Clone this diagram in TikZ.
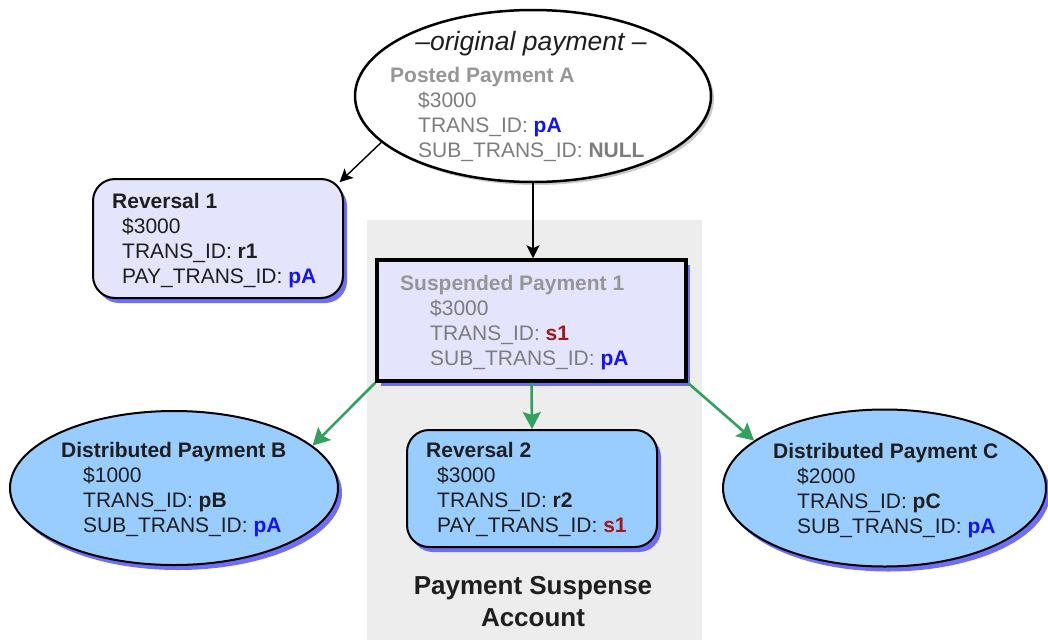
\documentclass[tikz,border=0pt]{standalone}
\usepackage{fontspec}
\setmainfont{Liberation Sans}
\usetikzlibrary{shapes.geometric,shadows,arrows.meta}

\definecolor{lavender}{RGB}{228,228,252}
\definecolor{skyfill}{RGB}{153,204,255}
\definecolor{shadowblue}{RGB}{95,95,245}
\definecolor{areagrey}{RGB}{237,237,237}
\definecolor{idblue}{RGB}{20,20,235}
\definecolor{idred}{RGB}{160,25,25}
\definecolor{titlegrey}{RGB}{150,150,150}
\definecolor{bodygrey}{RGB}{125,125,125}
\definecolor{darktext}{RGB}{30,30,30}
\definecolor{flowgreen}{RGB}{50,160,95}

\newcommand{\ind}[1]{\hspace*{#1pt}}
\newcommand{\idb}[1]{\textbf{\textcolor{idblue}{#1}}}
\newcommand{\idr}[1]{\textbf{\textcolor{idred}{#1}}}

\tikzset{
  blueshadow/.style={drop shadow={shadow xshift=4pt,shadow yshift=-5pt,fill=shadowblue,opacity=0.9}},
  greyshadow/.style={drop shadow={shadow xshift=3pt,shadow yshift=-3pt,fill=black!35,opacity=0.6}},
  recbox/.style={rectangle,draw,line width=2pt,fill=lavender,blueshadow,inner sep=0pt},
  recoval/.style={ellipse,draw,line width=2pt,fill=skyfill,blueshadow,inner sep=0pt},
  % base of a multi-line node is its last line
  txt/.style={anchor=base west,align=left,inner sep=0pt,text=darktext,font=\fontsize{21}{25}\selectfont}
}

\begin{document}
\begin{tikzpicture}[x=1pt,y=-1pt,
    link/.style={-{Stealth[length=13pt,width=13pt,inset=3pt]},line width=1.4pt,black},
    flow/.style={-{Stealth[length=17pt,width=18pt,inset=3pt]},line width=2.6pt,flowgreen}]
\useasboundingbox (0,0) rectangle (1048,640);

% suspense account area
\fill[areagrey] (367,220) rectangle (702,640);
\node (acct) [anchor=base,align=center,inner sep=0pt,text=darktext,
  font=\fontsize{26}{32}\selectfont\bfseries] at (533,626) {Payment Suspense\\Account};

% records
\node (orig) [ellipse,draw,line width=2.5pt,fill=white,greyshadow,inner sep=0pt,
  minimum width=356,minimum height=172] at (533,96) {};
\node (rev1) [recbox,rounded corners=22pt,minimum width=250,minimum height=119] at (218,238.5) {};
\node (susp) [recbox,line width=3.5pt,minimum width=309,minimum height=121] at (531.5,320.5) {};
\node (distB) [recoval,minimum width=328,minimum height=154] at (174,488) {};
\node (rev2) [recbox,fill=skyfill,rounded corners=22pt,minimum width=250,minimum height=117] at (532,488.5) {};
\node (distC) [recoval,minimum width=323,minimum height=157] at (884.5,488) {};

% texts
\node (orig-head) [anchor=base,inner sep=0pt,text=darktext,
  font=\fontsize{26.5}{30}\selectfont\itshape] at (531,50) {–original payment –};
\node (orig-t) [txt,text=bodygrey] at (390,157)
  {\textcolor{titlegrey}{\textbf{Posted Payment A}}\\ \ind{28}\$3000\\
   \ind{28}TRANS\_ID: \idb{pA}\\ \ind{28}SUB\_TRANS\_ID: \textbf{NULL}};
\node (rev1-t) [txt] at (112,283)
  {\textbf{Reversal 1}\\ \ind{10}\$3000\\ \ind{10}TRANS\_ID: \textbf{r1}\\
   \ind{10}PAY\_TRANS\_ID: \idb{pA}};
\node (susp-t) [txt,text=bodygrey] at (400,365)
  {\textcolor{titlegrey}{\textbf{Suspended Payment 1}}\\ \ind{30}\$3000\\
   \ind{30}TRANS\_ID: \idr{s1}\\ \ind{30}SUB\_TRANS\_ID: \idb{pA}};
\node (distB-t) [txt] at (61,532)
  {\textbf{Distributed Payment B}\\ \ind{22}\$1000\\ \ind{22}TRANS\_ID: \textbf{pB}\\
   \ind{22}SUB\_TRANS\_ID: \idb{pA}};
\node (rev2-t) [txt] at (426,532)
  {\textbf{Reversal 2}\\ \ind{11}\$3000\\ \ind{11}TRANS\_ID: \textbf{r2}\\
   \ind{11}PAY\_TRANS\_ID: \idr{s1}};
\node (distC-t) [txt] at (773,533)
  {\textbf{Distributed Payment C}\\ \ind{24}\$2000\\ \ind{24}TRANS\_ID: \textbf{pC}\\
   \ind{24}SUB\_TRANS\_ID: \idb{pA}};

% connectors
\draw[link,shorten >=-6pt] (orig.197) -- (rev1.north east);
\draw[link] (orig.south) -- (orig.south |- susp.north);
\draw[flow] (susp.south west) -- (distB.17);
\draw[flow] (susp.south) -- (rev2.north);
\draw[flow] (susp.south east) -- (distC.160);
\end{tikzpicture}
\end{document}
